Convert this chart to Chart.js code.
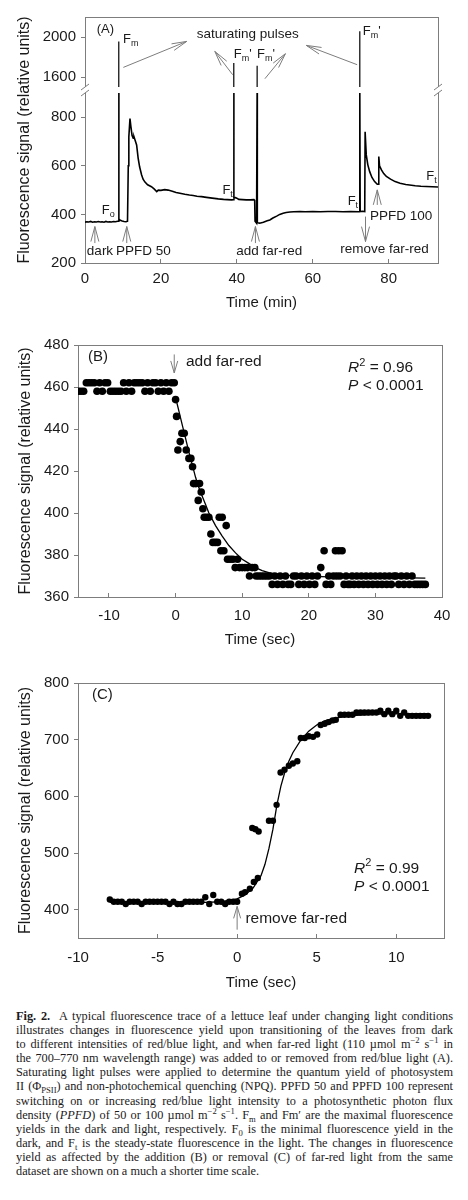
<!DOCTYPE html>
<html>
<head>
<meta charset="utf-8">
<script src="https://cdn.jsdelivr.net/npm/chart.js@4.4.1/dist/chart.umd.min.js"></script>
<style>
  body { margin: 0; background: #fff; }
  #page { position: relative; width: 468px; height: 1200px; overflow: hidden; background: #fff; }
  .panel { position: absolute; left: 0; width: 468px; }
  #caption { position: absolute; left: 16px; top: 1009px; width: 437px;
    font-family: "Liberation Serif", "Times New Roman", serif; font-size: 12.3px;
    line-height: 14.1px; color: #1c1a1b; }
  #caption div { white-space: nowrap; text-align: justify; text-align-last: justify; }
  #caption div:last-child { text-align-last: left; }
  #caption sup, #caption sub { font-size: 70%; line-height: 0; }
</style>
</head>
<body>
<div id="page">
  <div class="panel" style="top:0;height:320px"><canvas id="chartA" width="468" height="320"></canvas></div>
  <div class="panel" style="top:320px;height:340px"><canvas id="chartB" width="468" height="340"></canvas></div>
  <div class="panel" style="top:660px;height:340px"><canvas id="chartC" width="468" height="340"></canvas></div>
  <div id="caption">
    <div><b>Fig. 2.</b>&nbsp; A typical fluorescence trace of a lettuce leaf under changing light conditions</div>
    <div>illustrates changes in fluorescence yield upon transitioning of the leaves from dark</div>
    <div>to different intensities of red/blue light, and when far-red light (110 &micro;mol m<sup>&minus;2</sup> s<sup>&minus;1</sup> in</div>
    <div>the 700&ndash;770 nm wavelength range) was added to or removed from red/blue light (A).</div>
    <div>Saturating light pulses were applied to determine the quantum yield of photosystem</div>
    <div>II (&Phi;<sub>PSII</sub>) and non-photochemical quenching (NPQ). PPFD 50 and PPFD 100 represent</div>
    <div>switching on or increasing red/blue light intensity to a photosynthetic photon flux</div>
    <div>density (<i>PPFD</i>) of 50 or 100 &micro;mol m<sup>&minus;2</sup> s<sup>&minus;1</sup>. F<sub>m</sub> and Fm&prime; are the maximal fluorescence</div>
    <div>yields in the dark and light, respectively. F<sub>0</sub> is the minimal fluorescence yield in the</div>
    <div>dark, and F<sub>t</sub> is the steady-state fluorescence in the light. The changes in fluorescence</div>
    <div>yield as affected by the addition (B) or removal (C) of far-red light from the same</div>
    <div>dataset are shown on a much a shorter time scale.</div>
  </div>
</div>
<script>
// (A) whole trace: time in min, signal in relative units (pulses run past the axis break)
const timeA = [0, 0.5, 1, 1.5, 2, 2.5, 3, 3.5, 4, 4.5, 5, 5.5, 6, 6.5, 7, 7.5, 8, 8.6,
  8.85, 8.9, 8.95, 9.3, 9.8, 10.3, 10.8, 11.2, 11.4, 11.55, 11.85, 12.1, 12.4, 12.7, 12.9, 13.2,
  13.6, 14.0, 14.4, 14.9, 15.3, 15.8, 16.5, 17.5, 18.2, 18.9, 19.3, 20, 21, 21.9, 23, 24, 25,
  26.3, 27.5, 28.5, 29.5, 30.7, 32, 33.5, 35.1, 36.5, 37.5, 38.6, 39.15, 39.2, 39.25, 39.6, 40,
  40.5, 41.5, 42.5, 43.5, 44.5, 44.7, 44.8, 45.2, 45.3, 45.35, 45.4, 46, 46.5, 47, 47.5, 48,
  48.7, 49.5, 50.5, 51.3, 52.2, 53, 54, 55, 56.6, 58, 60, 62, 64, 66, 68, 70, 72.3, 72.4, 72.5,
  73.1, 73.7, 73.8, 74.1, 74.5, 75, 75.6, 76.3, 77.0, 77.3, 77.4, 77.6, 78.1, 78.7, 79.4, 80.5,
  81.7, 83, 84.5, 85.5, 87, 88.5, 89.9, 91.5, 93];
const signalA = [368, 370, 369, 371, 368, 370, 369, 371, 369, 370, 368, 371, 369, 370, 369, 371, 370, 372,
  372, 1956, 380, 376, 373, 371, 370, 372, 600, 720, 794, 760, 725, 714, 720, 705,
  686, 632, 595, 563, 545, 533, 522, 514, 505, 494, 500, 499, 502, 500, 495, 490, 487,
  483, 480, 478, 475, 473, 470, 467, 464, 462, 461, 460, 461, 1740, 470, 469, 467,
  462, 461, 460, 460, 461, 458, 372, 364, 364, 1713, 366, 364, 366, 368, 371, 374,
  377, 385, 393, 400, 405, 408, 410, 411, 412, 411, 412, 411, 412, 412, 411, 412, 411, 2057, 412,
  413, 412, 740, 645, 605, 576, 552, 535, 524, 524, 638, 600, 583, 568, 556, 545,
  535, 528, 523, 521, 518, 516, 515, 514, 513];
const upperTicksA = [1600, 2000];

// (B) adding far-red: time in sec
const timeB = [-14.6, -14.2, -13.8, -13.4, -13.0, -12.6, -12.2, -11.8, -11.4, -11.0, -10.6, -10.2,
  -9.8, -9.4, -9.0, -8.6, -8.2, -7.8, -7.4, -7.0, -6.6, -6.2, -5.8, -5.4, -5.0, -4.6, -4.2, -3.8,
  -3.4, -3.0, -2.6, -2.2, -1.8, -1.4, -1.0, -0.6, -0.2,
  0.0, 0.15, 0.35, 0.7, 0.95, 1.3, 1.6, 2.0, 2.3, 2.55, 2.7, 3.05, 3.4, 3.6, 3.85, 4.1, 4.3, 4.65,
  5.0, 5.3, 5.6, 5.95, 6.3, 6.55, 6.8, 7.0, 7.25, 7.6, 7.8, 8.2, 8.6, 8.95, 9.3, 9.6, 10.0, 10.4,
  10.8, 11.1, 11.5, 11.9, 12.1,
  12.5, 12.9, 13.3, 13.7, 14.1, 14.5, 14.9, 15.3, 15.7, 16.1, 16.5, 16.9, 17.3, 17.7, 18.1, 18.5,
  18.9, 19.3, 19.7, 20.1, 20.5, 20.9, 21.3, 21.8, 22.3, 22.6, 23.0, 23.3, 23.7, 24.0, 24.2, 24.5,
  24.7, 25.0, 25.3, 25.6, 25.9, 26.2, 26.5, 26.8, 27.2, 27.5, 27.9, 28.2, 28.6, 28.9, 29.3, 29.6,
  30.0, 30.3, 30.7, 31.0, 31.4, 31.7, 32.1, 32.4, 32.8, 33.1, 33.5, 33.9, 34.3, 34.7, 35.1, 35.5,
  35.9, 36.3, 36.7, 37.1, 37.5];
const signalB = [458, 458, 458, 462, 462, 462, 462, 458, 462, 458, 462, 462,
  458, 458, 458, 458, 458, 462, 458, 462, 458, 462, 462, 462, 462, 458, 462, 458,
  462, 462, 458, 462, 458, 462, 458, 462, 462,
  454, 446, 430, 434, 438, 438, 430, 426, 426, 422, 414, 414, 406, 414, 410, 402, 398, 398,
  398, 390, 386, 386, 386, 398, 382, 398, 382, 394, 378, 378, 378, 374, 378, 374, 374, 374,
  374, 370, 374, 374, 370,
  370, 370, 370, 370, 370, 366, 370, 366, 370, 366, 370, 366, 366, 370, 370, 366,
  370, 366, 370, 366, 370, 366, 370, 374, 382, 366, 370, 366, 370, 382, 370, 382,
  370, 382, 366, 370, 366, 366, 370, 366, 370, 366, 370, 366, 370, 366, 370, 366,
  370, 366, 370, 366, 370, 366, 370, 366, 370, 370, 366, 370, 366, 370, 366, 370,
  366, 366, 366, 366, 366];
const fitTimeB = [0, 0.5, 1, 1.5, 2, 2.5, 3, 3.5, 4, 4.5, 5, 6, 7, 8, 9, 10, 11, 12, 13, 14, 15, 16, 18, 20, 25, 30, 37.5];
const fitSignalB = [455, 448.5, 442, 435.5, 429, 423, 417, 412, 408, 404, 400, 394, 389, 384.5, 381, 378, 376, 374, 372.6, 371.6, 371, 370.5, 370, 369.8, 369.5, 369.3, 369];

// (C) removing far-red: time in sec
const timeC = [-8.0, -7.75, -7.5, -7.25, -7.0, -6.75, -6.5, -6.25, -6.0, -5.75, -5.5, -5.25, -5.0,
  -4.75, -4.5, -4.25, -4.0, -3.75, -3.5, -3.25, -3.0, -2.75, -2.5, -2.25, -2.0, -1.75, -1.5, -1.25,
  -1.0, -0.75, -0.5, -0.25, 0.0,
  0.3, 0.5, 0.8, 0.95, 1.05, 1.15, 1.3, 1.35, 2.0, 2.25, 2.48, 2.73, 2.98, 3.25, 3.5, 3.78,
  4.0, 4.25, 4.5, 4.77, 5.03, 5.25, 5.5, 5.75, 6.0, 6.2,
  6.5, 6.75, 7.0, 7.25, 7.5, 7.75, 8.0, 8.25, 8.5, 8.75, 9.0, 9.25, 9.5, 9.75, 10.0, 10.25, 10.5,
  10.75, 11.0, 11.25, 11.5, 11.75, 12.0];
const signalC = [418, 414, 414, 414, 410, 414, 414, 414, 410, 414, 414, 414, 414,
  414, 414, 410, 414, 410, 410, 414, 414, 414, 414, 414, 422, 410, 426, 414,
  414, 410, 414, 414, 414,
  428, 431, 437, 544, 449, 542, 456, 538, 557, 557, 585, 642, 647, 654, 658, 662,
  703, 703, 706, 705, 709, 726, 728, 731, 734, 735,
  744, 744, 744, 744, 748, 748, 748, 748, 748, 748, 751, 745, 751, 745, 751, 742, 748,
  742, 742, 742, 742, 742, 742];
const fitTimeC = [-8, -2, -1, 0, 0.5, 1, 1.5, 1.75, 2, 2.25, 2.5, 2.75, 3, 3.25, 3.5, 4, 4.5, 5, 5.5, 6, 7, 8, 9, 10, 12];
const fitSignalC = [413, 413, 414, 419, 426, 438, 460, 480, 508, 542, 585, 618, 643, 662, 677, 699, 715, 726, 733, 737, 742, 744, 745, 745.5, 746];

const INK = '#1a1a1a';
const AXIS = '#7d7d7d';
const FONT = '"Liberation Sans", Arial, sans-serif';
Chart.defaults.font.family = FONT;
Chart.defaults.color = INK;

const LOW_MAX = 912;   // top of the lower segment in (A)
const HIGH_MIN = 1470; // bottom of the upper segment in (A)

function points(xs, ys) {
  return xs.map((x, i) => ({x: x, y: ys[i]}));
}

// lower part of the trace, pulses cut at the break
const lowerA = timeA.map((t, i) => ({x: t, y: Math.min(signalA[i], LOW_MAX)}));
// upper part: only the pulses, each from the break up to its top
const upperA = [];
timeA.forEach((t, i) => {
  if (signalA[i] > LOW_MAX) {
    upperA.push({x: t, y: HIGH_MIN}, {x: t, y: signalA[i]}, {x: t, y: null});
  }
});

function drawParts(ctx, parts, x, y, size, align) {
  const fontFor = (s) => (s === 'i' ? 'italic ' : '') +
    ((s === 'sub' || s === 'sup') ? Math.round(size * 0.68) : size) + 'px ' + FONT;
  let w = 0;
  parts.forEach((p) => { ctx.font = fontFor(p[1]); w += ctx.measureText(p[0]).width; });
  let cx = align === 'center' ? x - w / 2 : x;
  parts.forEach((p) => {
    ctx.font = fontFor(p[1]);
    const dy = p[1] === 'sub' ? size * 0.32 : (p[1] === 'sup' ? -size * 0.35 : 0);
    ctx.fillText(p[0], cx, y + dy);
    cx += ctx.measureText(p[0]).width;
  });
}

function drawArrow(ctx, x1, y1, x2, y2, head, spread) {
  const a = Math.atan2(y2 - y1, x2 - x1);
  ctx.beginPath();
  ctx.moveTo(x1, y1);
  ctx.lineTo(x2, y2);
  [-1, 1].forEach((s) => {
    ctx.moveTo(x2, y2);
    ctx.lineTo(x2 - head * Math.cos(a) + s * spread * Math.sin(a),
               y2 - head * Math.sin(a) - s * spread * Math.cos(a));
  });
  ctx.stroke();
}

// frame, axis break, arrows and text labels, all placed in data units
function makeNotes(cfg) {
  return {
    id: 'notes',
    beforeDatasetsDraw(chart) {
      const a = chart.chartArea, ctx = chart.ctx;
      ctx.save();
      ctx.strokeStyle = AXIS;
      ctx.lineWidth = 1;
      ctx.strokeRect(Math.round(a.left) + 0.5, Math.round(a.top) + 0.5,
        Math.round(a.right - a.left), Math.round(a.bottom - a.top));
      ctx.restore();
    },
    afterDraw(chart) {
      const ctx = chart.ctx, a = chart.chartArea, sx = chart.scales.x;
      ctx.save();
      if (cfg.axisBreak) {
        const lo = chart.scales.y, hi = chart.scales.yTop;
        const yb = lo.top > hi.top ? lo.top : lo.bottom;
        ctx.fillStyle = '#fff';
        ctx.fillRect(a.left - 6, yb - 3, a.right - a.left + 12, 6);
        ctx.strokeStyle = AXIS;
        ctx.lineWidth = 1;
        [a.left, a.right].forEach((xx) => {
          [yb - 3, yb + 3].forEach((yy) => {
            ctx.beginPath();
            ctx.moveTo(xx - 4, yy + 3);
            ctx.lineTo(xx + 4, yy - 3);
            ctx.stroke();
          });
        });
      }
      ctx.strokeStyle = AXIS;
      ctx.lineWidth = 1;
      (cfg.arrows || []).forEach((ar) => {
        const ys = chart.scales[ar.axis || 'y'];
        drawArrow(ctx, sx.getPixelForValue(ar.from[0]), ys.getPixelForValue(ar.from[1]),
          sx.getPixelForValue(ar.to[0]), ys.getPixelForValue(ar.to[1]), ar.head || 12, ar.spread || 3.5);
      });
      ctx.fillStyle = INK;
      ctx.textBaseline = 'middle';
      ctx.textAlign = 'left';
      (cfg.labels || []).forEach((l) => {
        const ys = chart.scales[l.axis || 'y'];
        drawParts(ctx, l.parts, sx.getPixelForValue(l.t), ys.getPixelForValue(l.v), l.size, l.align);
      });
      if (cfg.yTitle) {
        ctx.translate(25, (a.top + a.bottom) / 2);
        ctx.rotate(-Math.PI / 2);
        ctx.textAlign = 'center';
        ctx.font = '16px ' + FONT;
        ctx.fillText(cfg.yTitle, 0, 0);
      }
      ctx.restore();
    }
  };
}

const plain = (v) => String(v);

function xAxis(min, max, step, title, height, labelPad, titlePad) {
  return {
    type: 'linear', min: min, max: max,
    border: {color: AXIS},
    grid: {drawOnChartArea: false, tickLength: -4, color: AXIS},
    ticks: {stepSize: step, includeBounds: false, autoSkip: false, maxRotation: 0,
      padding: labelPad, font: {size: 15}, color: INK, callback: plain},
    title: {display: true, text: title, font: {size: 15}, color: INK, padding: {top: 0, bottom: titlePad}},
    afterFit: (s) => { s.height = height; }
  };
}

function yAxis(min, max, step, width, title, extra) {
  return Object.assign({
    type: 'linear', position: 'left', min: min, max: max,
    border: {color: AXIS},
    grid: {drawOnChartArea: false, tickLength: 4, color: AXIS},
    ticks: {stepSize: step, includeBounds: false, autoSkip: false, padding: 5, font: {size: 15}, color: INK, callback: plain},
    title: {display: !!title, text: title || '', font: {size: 16}, color: INK, padding: {top: 16, bottom: 0}},
    afterFit: (s) => { s.width = width; }
  }, extra || {});
}

const common = {
  responsive: false,
  animation: false,
  plugins: {legend: {display: false}, tooltip: {enabled: false}}
};

const aUp = 'yTop';
new Chart(document.getElementById('chartA'), {
  type: 'scatter',
  data: {
    datasets: [
      {data: lowerA, yAxisID: 'y', showLine: true, borderColor: '#000', borderWidth: 1.6, pointRadius: 0},
      {data: upperA, yAxisID: 'yTop', showLine: true, spanGaps: false, borderColor: '#000', borderWidth: 1.2, pointRadius: 0}
    ]
  },
  options: Object.assign({}, common, {
    layout: {padding: {top: 17, right: 30, left: 0, bottom: 0}},
    scales: {
      x: xAxis(0, 93, 20, 'Time (min)', 57, 11, 8),
      y: yAxis(200, LOW_MAX, 200, 85, null, {stack: 'a', stackWeight: 173}),
      yTop: yAxis(HIGH_MIN, 2200, 400, 85, null, {
        stack: 'a', stackWeight: 73,
        afterBuildTicks: (s) => { s.ticks = upperTicksA.map((v) => ({value: v})); }
      })
    }
  }),
  plugins: [makeNotes({
    axisBreak: true,
    yTitle: 'Fluorescence signal (relative units)',
    arrows: [
      {axis: aUp, from: [10.1, 1696], to: [26.8, 1956], head: 15, spread: 3.5},
      {axis: aUp, from: [38.9, 1623], to: [34.2, 1856], head: 15, spread: 3.5},
      {axis: aUp, from: [47.4, 1583], to: [52.8, 1833], head: 15, spread: 3.5},
      {axis: aUp, from: [71.7, 1723], to: [58.3, 1916], head: 15, spread: 3.5},
      {from: [2.6, 282], to: [2.6, 350], head: 15, spread: 4},
      {from: [11.0, 282], to: [11.0, 350], head: 15, spread: 4},
      {from: [44.9, 282], to: [44.9, 350], head: 15, spread: 4},
      {from: [73.9, 391], to: [73.9, 288], head: 15, spread: 4},
      {from: [77.0, 439], to: [77.0, 501], head: 15, spread: 4}
    ],
    labels: [
      {axis: aUp, t: 3.1, v: 2073, parts: [['(A)']], size: 13},
      {axis: aUp, t: 10.0, v: 1973, parts: [['F'], ['m', 'sub']], size: 13},
      {axis: aUp, t: 42.9, v: 2026, parts: [['saturating pulses']], size: 13.5, align: 'center'},
      {axis: aUp, t: 39.2, v: 1823, parts: [['F'], ['m', 'sub'], ["'"]], size: 13},
      {axis: aUp, t: 45.3, v: 1823, parts: [['F'], ['m', 'sub'], ["'"]], size: 13},
      {axis: aUp, t: 73.2, v: 2056, parts: [['F'], ['m', 'sub'], ["'"]], size: 13},
      {t: 4.4, v: 416, parts: [['F'], ['o', 'sub']], size: 13},
      {t: 36.2, v: 498, parts: [['F'], ['t', 'sub']], size: 13},
      {t: 69.2, v: 453, parts: [['F'], ['t', 'sub']], size: 13},
      {t: 89.9, v: 556, parts: [['F'], ['t', 'sub']], size: 13},
      {t: 3.95, v: 247, parts: [['dark']], size: 13.5, align: 'center'},
      {t: 15.4, v: 247, parts: [['PPFD 50']], size: 13.5, align: 'center'},
      {t: 48.55, v: 247, parts: [['add far-red']], size: 13.5, align: 'center'},
      {t: 78.9, v: 256, parts: [['remove far-red']], size: 13.5, align: 'center'},
      {t: 83.3, v: 394, parts: [['PPFD 100']], size: 13.5, align: 'center'}
    ]
  })]
});

new Chart(document.getElementById('chartB'), {
  type: 'scatter',
  data: {
    datasets: [
      {data: points(fitTimeB, fitSignalB), showLine: true, borderColor: '#000', borderWidth: 1.3, pointRadius: 0, order: 1},
      {data: points(timeB, signalB), backgroundColor: '#000', borderWidth: 0, pointRadius: 3.8, order: 0}
    ]
  },
  options: Object.assign({}, common, {
    layout: {padding: {top: 25, right: 26, left: 0, bottom: 0}},
    scales: {
      x: xAxis(-14.65, 40, 10, 'Time (sec)', 63, 14, 11),
      y: yAxis(360, 480, 20, 78, 'Fluorescence signal (relative units)')
    }
  }),
  plugins: [makeNotes({
    arrows: [{from: [-0.2, 475.5], to: [-0.2, 466.7], head: 12, spread: 3.5}],
    labels: [
      {t: -13.15, v: 474.3, parts: [['(B)']], size: 15},
      {t: 1.55, v: 471.9, parts: [['add far-red']], size: 15.5},
      {t: 25.9, v: 469, parts: [['R', 'i'], ['2', 'sup'], [' = 0.96']], size: 15.5},
      {t: 25.9, v: 460.6, parts: [['P', 'i'], [' < 0.0001']], size: 15.5}
    ]
  })]
});

new Chart(document.getElementById('chartC'), {
  type: 'scatter',
  data: {
    datasets: [
      {data: points(fitTimeC, fitSignalC), showLine: true, borderColor: '#000', borderWidth: 1.3, pointRadius: 0, order: 1},
      {data: points(timeC, signalC), backgroundColor: '#000', borderWidth: 0, pointRadius: 3.2, order: 0}
    ]
  },
  options: Object.assign({}, common, {
    layout: {padding: {top: 23, right: 24, left: 0, bottom: 0}},
    scales: {
      x: xAxis(-10, 13, 5, 'Time (sec)', 62, 14.5, 8),
      y: yAxis(350, 800, 100, 78, 'Fluorescence signal (relative units)')
    }
  }),
  plugins: [makeNotes({
    arrows: [{from: [0, 364.7], to: [0, 405.8], head: 12, spread: 3.5}],
    labels: [
      {t: -9.12, v: 779, parts: [['(C)']], size: 15},
      {t: 0.52, v: 383.6, parts: [['remove far-red']], size: 15.5},
      {t: 7.35, v: 472.3, parts: [['R', 'i'], ['2', 'sup'], [' = 0.99']], size: 15.5},
      {t: 7.35, v: 441.1, parts: [['P', 'i'], [' < 0.0001']], size: 15.5}
    ]
  })]
});

// keep every caption line on one row, squeezing letters a little if needed
document.querySelectorAll('#caption div').forEach((d) => {
  let ls = 0;
  while (d.scrollWidth > d.clientWidth + 0.5 && ls > -1) {
    ls -= 0.05;
    d.style.letterSpacing = ls + 'px';
  }
});
</script>
</body>
</html>
